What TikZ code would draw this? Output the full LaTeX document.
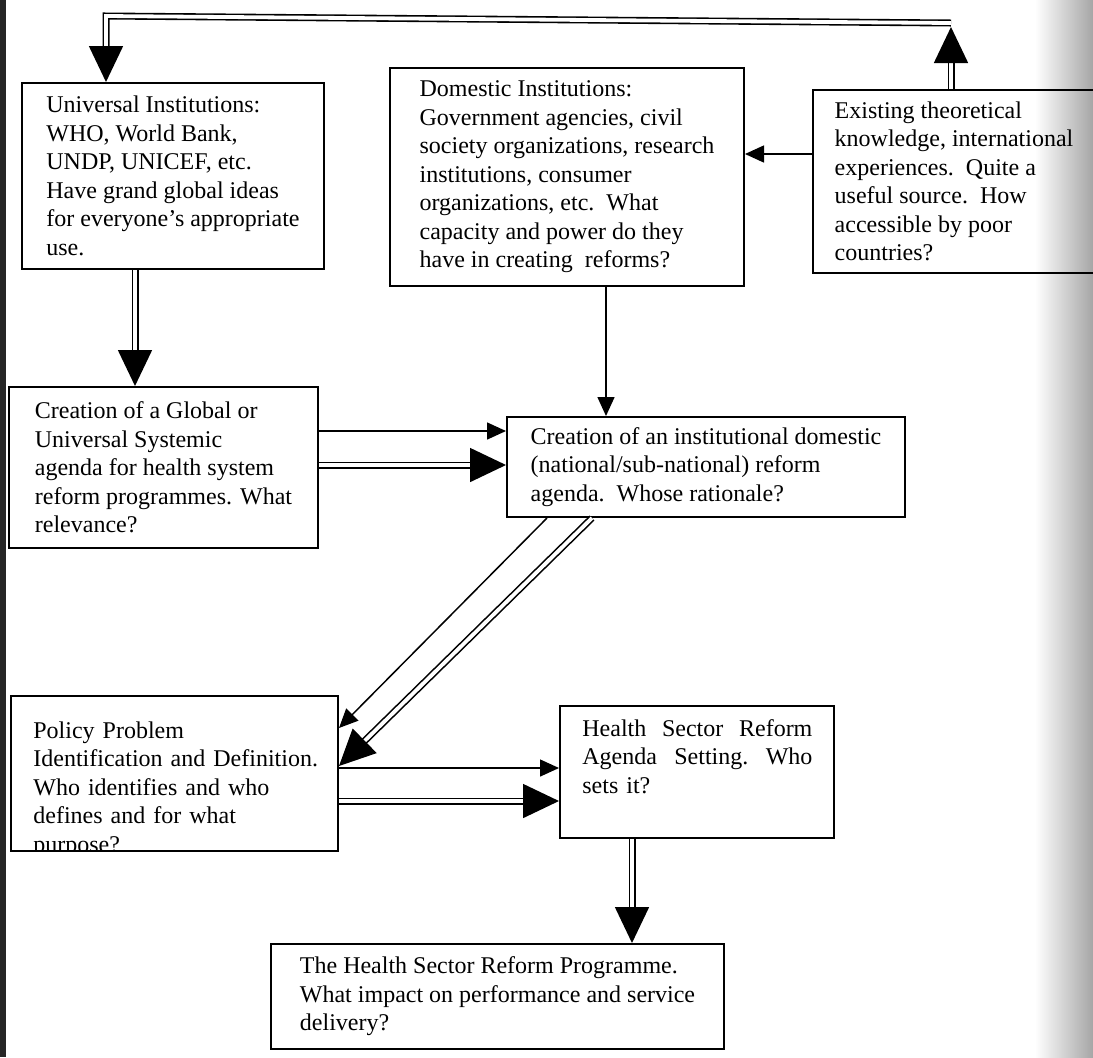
\documentclass[tikz,border=0pt]{standalone}
\usepackage{fontspec}
\setmainfont{Liberation Serif}
\usetikzlibrary{arrows.meta,calc}
\tikzset{
    box/.style={draw,line width=1pt,rectangle,anchor=north west,inner sep=0pt,align=left,
        font=\fontsize{12}{14.25}\selectfont},
    boxtext/.style={anchor=base west,inner sep=0pt,align=left,
        font=\fontsize{12}{14.25}\selectfont},
    arr/.style={line width=0.75pt,-{Triangle[length=9.5pt,width=8.5pt]}},
    dbl/.style={line width=0.8pt,double,double distance=1.9pt,-{Triangle[length=18pt,width=17pt]}},
}

\begin{document}
\begin{tikzpicture}[x=0.5pt,y=-0.5pt]
  \clip (0,0) rectangle (1093,1057);
  % scanned page edges
  \fill[black!85] (0,0) rectangle (6,1057);
  \shade[left color=white,right color=black!35] (1035,0) rectangle (1093,1057);
  % boxes
  \node[box,minimum width=151pt,minimum height=93pt] (uni) at (21,82)
    {Universal Institutions:\\WHO, World Bank,\\UNDP, UNICEF, etc.\\Have grand global ideas\\for everyone's appropriate\\use.};
  \node[box,minimum width=177pt,minimum height=109pt] (dom) at (389,67)
    {Domestic Institutions:\\Government agencies, civil\\society organizations, research\\institutions, consumer\\organizations, etc.\ \ What\\capacity and power do they\\have in creating \ reforms?};
  \node[box,minimum width=141pt,minimum height=91.5pt] (exist) at (812,89)
    {Existing theoretical\\knowledge, international\\experiences.\ \ Quite a\\useful source.\ \ How\\accessible by poor\\countries?};
  \node[box,minimum width=154.5pt,minimum height=80.5pt] (glob) at (8,386)
    {Creation of a Global or\\Universal Systemic\\agenda for health system\\reform programmes. What\\relevance?};
  \node[box,minimum width=199pt,minimum height=50pt] (inst) at (506,416)
    {Creation of an institutional domestic\\(national/sub-national) reform\\agenda.\ \ Whose rationale?};
  \node[box,minimum width=163.5pt,minimum height=77.5pt] (pol) at (10,695) {};
  \begin{scope}
    \clip (11,696) rectangle (336,849);
    \node[boxtext,text width=150pt] (pol-text) at (33,738)
      {Policy Problem\\Identification and Definition.\\Who identifies and who\\defines and for what\\purpose?};
  \end{scope}
  \node[box,minimum width=137pt,minimum height=66pt] (agd) at (559,705) {};
  \node[boxtext,text width=115pt] (agd-text) at (582,736)
    {Health\hfill Sector\hfill Reform\\Agenda\hfill Setting.\hfill Who\\sets it?};
  \node[box,minimum width=226.5pt,minimum height=52.5pt] (prog) at (270,943)
    {The Health Sector Reform Programme.\\What impact on performance and service\\delivery?};
  % connectors
  \coordinate (top-r) at (951,23);
  \coordinate (top-l) at (106,16);
  \coordinate (x-uni) at (135,0);
  \coordinate (x-dom) at (606,0);
  \coordinate (x-d1) at (547,0);
  \coordinate (x-d2) at (592,0);
  \coordinate (x-agd) at (632,0);
  \coordinate (y-exist) at (0,154);
  \coordinate (y-g1) at (0,431);
  \coordinate (y-g2) at (0,465);
  \coordinate (y-d1) at (0,728);
  \coordinate (y-d2) at (0,766);
  \coordinate (y-p1) at (0,768);
  \coordinate (y-p2) at (0,801);
  \draw[dbl] (exist.north west -| top-r) -- ([yshift=-2pt]top-r);
  \draw[dbl] (top-r) -- (top-l) -- (uni.north -| top-l);
  \draw[arr] (exist.west |- y-exist) -- (dom.east |- y-exist);
  \draw[dbl] (uni.south -| x-uni) -- (glob.north -| x-uni);
  \draw[arr] (dom.south -| x-dom) -- (inst.north -| x-dom);
  \draw[arr] (glob.east |- y-g1) -- (inst.west |- y-g1);
  \draw[dbl] (glob.east |- y-g2) -- (inst.west |- y-g2);
  \draw[arr] (inst.south -| x-d1) -- (pol.east |- y-d1);
  \draw[dbl] (inst.south -| x-d2) -- (pol.east |- y-d2);
  \draw[arr] (pol.east |- y-p1) -- (agd.west |- y-p1);
  \draw[dbl] (pol.east |- y-p2) -- (agd.west |- y-p2);
  \draw[dbl] (agd.south -| x-agd) -- (prog.north -| x-agd);
\end{tikzpicture}
\end{document}
